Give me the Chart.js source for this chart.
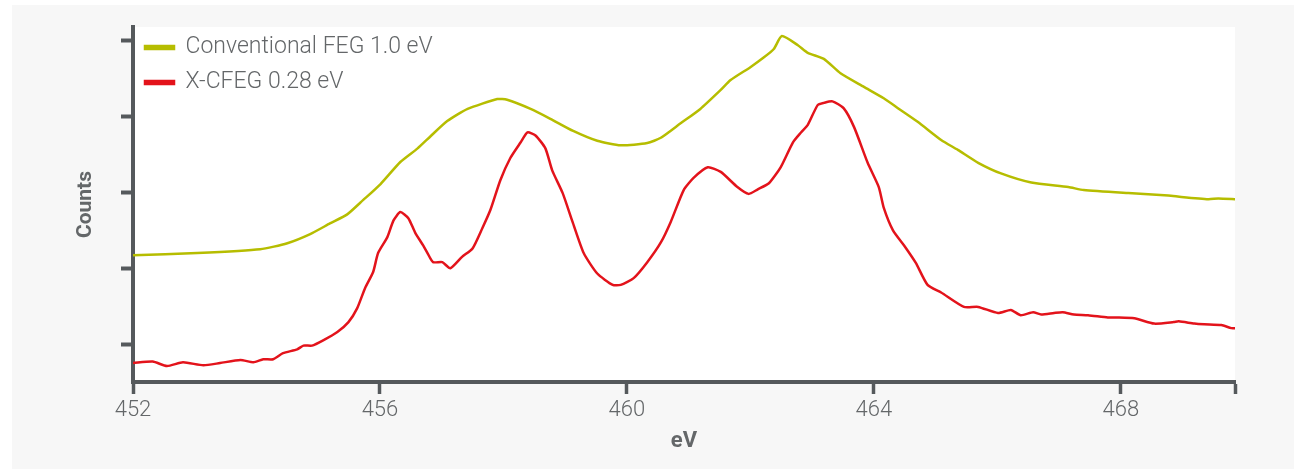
<!DOCTYPE html>
<html>
<head>
<meta charset="utf-8">
<script src="https://cdn.jsdelivr.net/npm/chart.js@4"></script>
<style>
  html, body { margin: 0; padding: 0; background: #ffffff; }
  #panel { position: absolute; left: 12px; top: 5px; right: 0; bottom: 0; background: #f7f7f7; }
  #wrap { position: absolute; left: 0; top: 0; width: 1294px; height: 469px; }
</style>
</head>
<body>
<div id="panel"></div>
<div id="wrap"><canvas id="chart"></canvas></div>
<script>
    // energy loss (eV) and counts
    const fegEv = [452.00, 453.04, 454.06, 454.50, 454.87, 455.19, 455.47, 455.73, 456.01, 456.33,
        456.61, 456.82, 457.09, 457.42, 457.90, 458.06, 458.44, 458.76, 459.13, 459.52,
        459.90, 460.33, 460.55, 460.87, 461.19, 461.52, 461.68, 462.00, 462.22, 462.38,
        462.51, 462.77, 462.93, 463.19, 463.46, 463.84, 464.16, 464.39, 464.71, 465.09,
        465.36, 465.69, 466.06, 466.55, 467.15, 467.40, 468.12, 468.77, 468.98, 469.42,
        469.58, 469.87];
    const fegCounts = [2.17, 2.20, 2.25, 2.33, 2.45, 2.59, 2.71, 2.90, 3.11, 3.40,
        3.58, 3.74, 3.94, 4.10, 4.23, 4.22, 4.10, 3.97, 3.81, 3.68,
        3.62, 3.65, 3.72, 3.91, 4.10, 4.35, 4.48, 4.65, 4.78, 4.89,
        5.06, 4.94, 4.84, 4.76, 4.57, 4.39, 4.24, 4.11, 3.93, 3.69,
        3.56, 3.39, 3.25, 3.13, 3.07, 3.03, 2.99, 2.96, 2.94, 2.91,
        2.92, 2.91];

    const cfegEv = [452.00, 452.32, 452.55, 452.81, 453.14, 453.41, 453.74, 453.95, 454.11, 454.27,
        454.43, 454.66, 454.76, 454.90, 455.08, 455.31, 455.49, 455.63, 455.76, 455.89,
        455.97, 456.12, 456.22, 456.33, 456.46, 456.57, 456.70, 456.77, 456.86, 457.01,
        457.14, 457.33, 457.50, 457.66, 457.79, 457.95, 458.11, 458.28, 458.39, 458.52,
        458.68, 458.79, 458.96, 459.12, 459.30, 459.52, 459.77, 459.90, 460.11, 460.33,
        460.55, 460.71, 460.92, 461.08, 461.31, 461.52, 461.79, 461.97, 462.12, 462.30,
        462.49, 462.69, 462.82, 462.93, 463.09, 463.19, 463.33, 463.51, 463.68, 463.90,
        464.08, 464.16, 464.31, 464.49, 464.68, 464.87, 465.09, 465.46, 465.69, 466.01,
        466.22, 466.38, 466.58, 466.71, 466.92, 467.06, 467.24, 467.47, 467.79, 467.92,
        468.22, 468.54, 468.86, 468.94, 469.19, 469.35, 469.63, 469.79, 469.87];
    const cfegCounts = [0.75, 0.77, 0.71, 0.76, 0.72, 0.75, 0.79, 0.76, 0.80, 0.80,
        0.88, 0.93, 0.98, 0.98, 1.05, 1.16, 1.29, 1.47, 1.74, 1.95,
        2.20, 2.41, 2.63, 2.74, 2.66, 2.47, 2.30, 2.20, 2.08, 2.08,
        2.00, 2.15, 2.26, 2.53, 2.77, 3.16, 3.45, 3.66, 3.79, 3.75,
        3.58, 3.29, 2.99, 2.61, 2.20, 1.93, 1.78, 1.78, 1.87, 2.08,
        2.34, 2.61, 3.03, 3.19, 3.33, 3.27, 3.07, 2.98, 3.04, 3.12,
        3.33, 3.66, 3.79, 3.89, 4.15, 4.18, 4.20, 4.11, 3.86, 3.39,
        3.07, 2.80, 2.50, 2.30, 2.07, 1.78, 1.68, 1.49, 1.49, 1.41,
        1.45, 1.38, 1.42, 1.39, 1.41, 1.42, 1.39, 1.38, 1.35, 1.35,
        1.34, 1.27, 1.29, 1.30, 1.27, 1.26, 1.25, 1.21, 1.21];

    const xTicks = [452, 456, 460, 464, 468];
    const yTicks = [1, 2, 3, 4, 5];

    const axisColor = '#55595c';
    const textColor = '#646769';
    const fontName = "Roboto, 'Liberation Sans', sans-serif";
    const X_MIN = 452, X_MAX = 469.85;

    const toPoints = (xs, ys) => xs.map((x, i) => ({ x, y: ys[i] }));

    const plotBg = {
        id: 'plotBg',
        beforeDraw(chart) {
            const { ctx, chartArea: a } = chart;
            ctx.save();
            ctx.fillStyle = '#ffffff';
            ctx.fillRect(a.left, a.top, a.right - a.left, a.bottom - a.top);
            ctx.restore();
        },
        afterLayout(chart) {
            // legend sits a little higher inside the plot than chart.js puts it
            chart.legend.top = chart.chartArea.top - 3;
        }
    };

    new Chart(document.getElementById('chart'), {
        type: 'line',
        data: {
            datasets: [
                {
                    label: 'Conventional FEG 1.0 eV',
                    data: toPoints(fegEv, fegCounts),
                    borderColor: '#b6bd00',
                    backgroundColor: '#b6bd00',
                    borderWidth: 2.5,
                    pointRadius: 0,
                    tension: 0.2
                },
                {
                    label: 'X-CFEG 0.28 eV',
                    data: toPoints(cfegEv, cfegCounts),
                    borderColor: '#e3131b',
                    backgroundColor: '#e3131b',
                    borderWidth: 2.5,
                    pointRadius: 0,
                    tension: 0.2
                }
            ]
        },
        options: {
            responsive: true,
            maintainAspectRatio: false,
            animation: false,
            layout: { padding: { left: 0, right: 59, top: 27, bottom: 0 } },
            plugins: {
                tooltip: { enabled: false },
                legend: {
                    position: 'chartArea',
                    align: 'start',
                    labels: {
                        color: textColor,
                        font: { family: fontName, size: 23, weight: '300' },
                        boxWidth: 29, boxHeight: 3, padding: 12
                    }
                }
            },
            scales: {
                x: {
                    type: 'linear',
                    min: X_MIN, max: X_MAX,
                    afterFit: s => { s.height = 87; },
                    afterBuildTicks: s => {
                        s.ticks = xTicks.concat([X_MAX]).map(v => ({ value: v }));
                    },
                    ticks: {
                        color: textColor,
                        font: { family: fontName, size: 22, weight: '300' },
                        padding: 3,
                        maxRotation: 0,
                        callback: v => xTicks.includes(v) ? String(v) : ''
                    },
                    grid: {
                        drawOnChartArea: false, drawTicks: true,
                        tickLength: 12, tickWidth: 3.5, tickColor: axisColor
                    },
                    border: { color: axisColor, width: 4 },
                    title: {
                        display: true, text: 'eV', color: textColor,
                        font: { family: fontName, size: 22, weight: 'bold' },
                        padding: { top: 0, bottom: 14 }
                    }
                },
                y: {
                    min: 0.5, max: 5.18,
                    afterFit: s => { s.width = 133; },
                    afterBuildTicks: s => {
                        s.ticks = yTicks.map(v => ({ value: v }));
                    },
                    ticks: { display: false },
                    grid: {
                        drawOnChartArea: false, drawTicks: true,
                        tickLength: 12, tickWidth: 4, tickColor: axisColor
                    },
                    border: { color: axisColor, width: 4 },
                    title: {
                        display: true, text: 'Counts', color: textColor,
                        font: { family: fontName, size: 21, weight: 'bold' },
                        padding: { top: 73, bottom: 0 }
                    }
                }
            }
        },
        plugins: [plotBg]
    });
</script>
</body>
</html>
